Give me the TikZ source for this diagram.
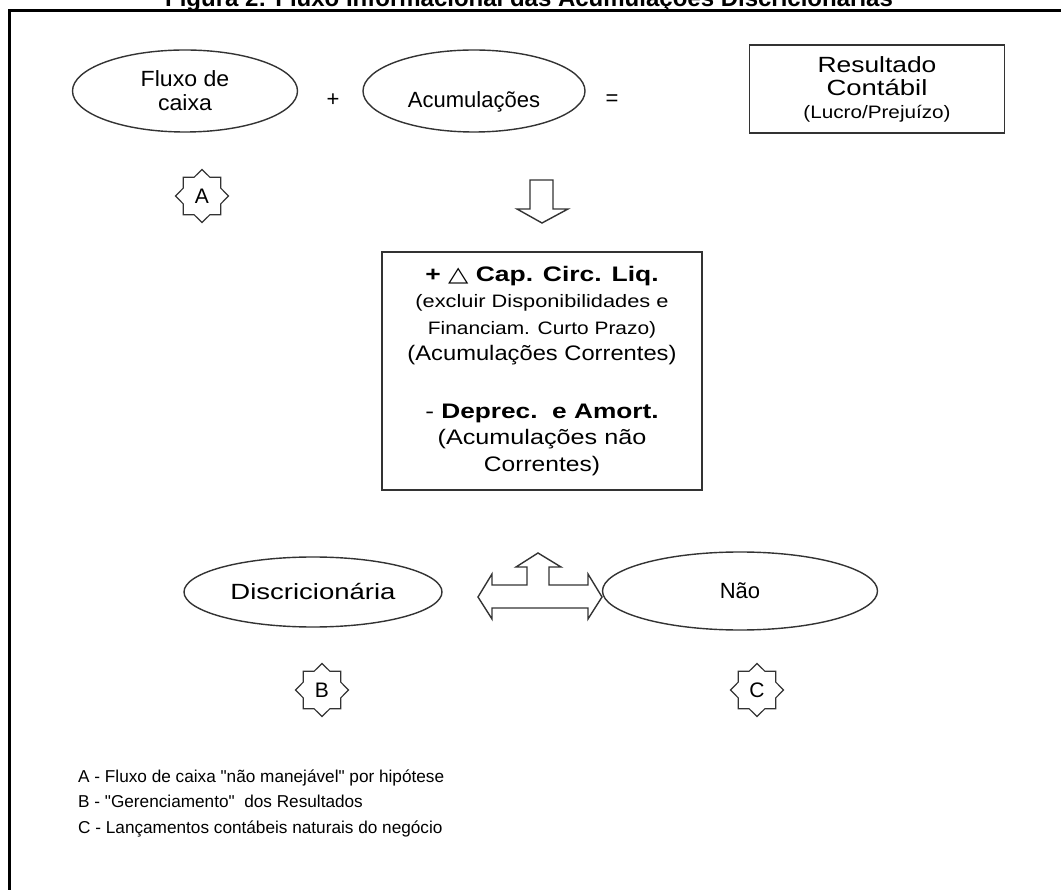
\documentclass[tikz,border=0pt]{standalone}
\usepackage{fontspec}
\setmainfont{Liberation Sans}[Ligatures=TeXOff]
\newfontfamily\symbfont{DejaVu Sans}
\usetikzlibrary{positioning,shapes.geometric,calc}
\definecolor{FigLine}{HTML}{333333}
\newcommand{\hstretch}[2]{\scalebox{#1}[1]{#2}}

\begin{document}
\begin{tikzpicture}[x=1pt,y=-1pt,
        oval/.style={draw=FigLine,line width=1.4pt,ellipse,inner sep=0pt,align=center,font=\fontsize{22}{24}\selectfont},
        box/.style={draw=FigLine,line width=1.4pt,inner sep=0pt,align=center},
        seal/.style={draw=FigLine,line width=1.2pt,star,star points=8,star point ratio=1.3,minimum size=53pt,inner sep=0pt,font=\fontsize{21}{21}\selectfont},
        sign/.style={inner sep=0pt,font=\fontsize{22}{22}\selectfont},
        hollow/.style={draw=FigLine,line width=1.4pt,fill=white,line join=miter},
        note/.style={anchor=base west,inner sep=0pt,font=\fontsize{17.2}{17.2}\selectfont}
      ]
        \clip (0,0) rectangle (1061,890);
        \fill[white] (0,0) rectangle (1061,890);
        \node[anchor=base,inner sep=0pt,font=\bfseries\fontsize{24}{24}\selectfont] (title) at (529,7) {Figura 2: Fluxo Informacional das Acumulações Discricionárias};
        \draw[line width=3pt] (9,900) |- (1070,11);
        % equacao do resultado
        \node[oval,minimum width=225pt,minimum height=82pt] (caixa) at (185,91) {\hstretch{1.05}{Fluxo de}\\\hstretch{1.05}{caixa}};
        \node[sign] (plus) at (333,100) {+};
        \node[oval,minimum width=222pt,minimum height=82pt,text height=38pt,text depth=5pt] (acum) at (474,91) {Acumulações};
        \node[sign] (equals) at (612,100) {=};
        \node[box,minimum width=255pt,minimum height=88pt,font=\fontsize{22}{23}\selectfont] (result) at (877,89) {\hstretch{1.2}{Resultado}\\\hstretch{1.25}{Contábil}\\{\fontsize{18}{23}\selectfont\hstretch{1.15}{(Lucro/Prejuízo)}}};
        \node[seal] (sa) at (202,196) {A};
        \draw[hollow] (530,180) -- (553,180) -- (553,209) -- (568,209) -- (542,223) -- (517,209) -- (530,209) -- cycle;
        % componentes das acumulacoes
        \node[box,minimum width=320pt,minimum height=238pt,font=\fontsize{21}{26.5}\selectfont] (circ) at (542,371) {%
          \hstretch{1.26}{\bfseries + {\mdseries\symbfont △} Cap. Circ. Liq.}\\
          {\fontsize{18}{26.5}\selectfont\hstretch{1.21}{(excluir Disponibilidades e}}\\
          {\fontsize{18}{26.5}\selectfont\hstretch{1.16}{Financiam. Curto Prazo)}}\\
          \hstretch{1.13}{(Acumulações Correntes)}\\[31pt]
          \hstretch{1.25}{- {\bfseries Deprec.\ \ e Amort.}}\\
          \hstretch{1.2}{(Acumulações não}\\
          \hstretch{1.17}{Correntes)}};
        % classificacao
        \node[oval,minimum width=258pt,minimum height=70pt] (discr) at (313,592) {\hstretch{1.25}{Discricionária}};
        \node[oval,minimum width=275pt,minimum height=78pt] (nao) at (740,591) {Não};
        \draw[hollow] (478,597) -- (492,574) -- (492,585) -- (527,585) -- (527,567) -- (516,567) -- (538,553)
          -- (561,567) -- (549,567) -- (549,585) -- (588,585) -- (588,574) -- (602,597) -- (588,619)
          -- (588,608) -- (492,608) -- (492,619) -- cycle;
        \node[seal] (sb) at (322,690) {B};
        \node[seal] (sc) at (757,690) {C};
        % legenda
        \node[note] (la) at (78,782) {A - Fluxo de caixa "não manejável" por hipótese};
        \node[note] (lb) at (78,807) {B - "Gerenciamento"\ \ dos Resultados};
        \node[note] (lc) at (78,833) {C - Lançamentos contábeis naturais do negócio};
      \end{tikzpicture}
\end{document}
